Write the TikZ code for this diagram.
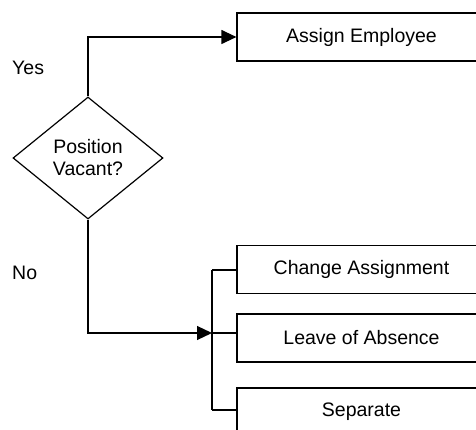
\documentclass[tikz,border=0pt]{standalone}
\usepackage{fontspec}
\setmainfont{Liberation Sans}
\usetikzlibrary{shapes.geometric,arrows.meta}
\begin{document}
\begin{tikzpicture}[x=1pt,y=-1pt,
  every node/.style={font=\fontsize{19.5}{22}\selectfont},
  line/.style={line width=1.2pt},
  arrowline/.style={line, -{Triangle[length=15pt,width=14pt]}},
  taskbox/.style={draw, line width=1.2pt, rectangle, minimum width=249pt, minimum height=48pt, inner sep=0pt},
  decision/.style={draw, line width=1.2pt, diamond, minimum width=150pt, minimum height=122pt, inner sep=0pt, align=center},
  lbl/.style={inner sep=0pt, anchor=west}]
\useasboundingbox (0,0) rectangle (476,430);
\clip (0,0) rectangle (476,430);
\node[decision] (dec) at (88,158) {Position\\Vacant?};
\node[taskbox] (assign) at (361.5,37) {Assign Employee};
\node[taskbox] (change) at (361.5,269.5) {Change Assignment};
\node[taskbox] (leave) at (361.5,338) {Leave of Absence};
\node[taskbox] (sep) at (361.5,412) {Separate};
\node[lbl] (yes) at (12,68) {Yes};
\node[lbl] (no) at (12,273) {No};
\coordinate (bustop) at (212,270);
\coordinate (busmid) at (212,333);
\coordinate (busbot) at (212,410);
\coordinate (cA) at (237,270);
\coordinate (cL) at (237,333);
\coordinate (cS) at (237,410);
\draw[arrowline] (dec.north) |- (assign.west);
\draw[arrowline] (dec.south) |- (busmid);
\draw[line] (bustop) -- (busbot);
\draw[line] (bustop) -- (cA);
\draw[line] (busmid) -- (cL);
\draw[line] (busbot) -- (cS);
\end{tikzpicture}
\end{document}
